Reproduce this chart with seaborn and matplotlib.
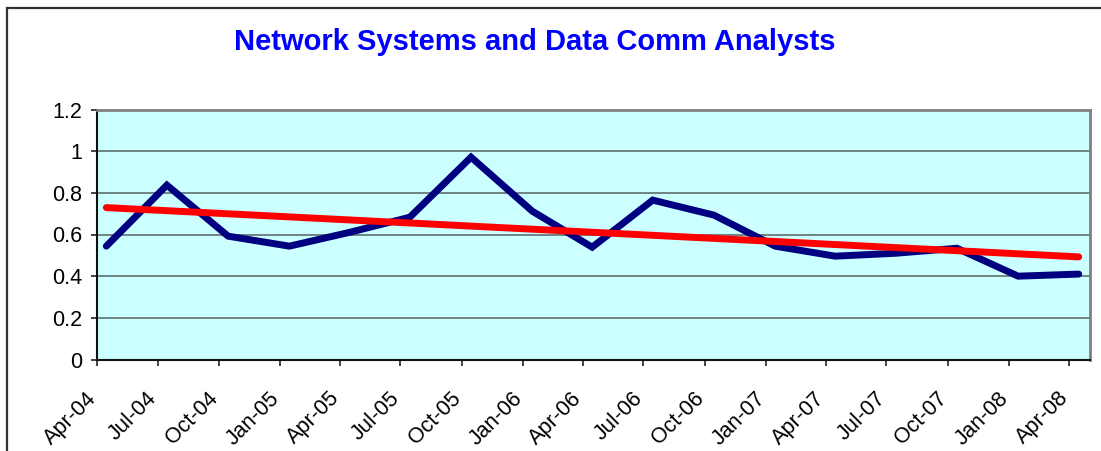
import numpy as np
import pandas as pd
import matplotlib
matplotlib.use("Agg")
import matplotlib.pyplot as plt
import matplotlib.dates as mdates
from matplotlib.patches import Rectangle
import seaborn as sns

# ---- data ----
dates = pd.to_datetime([
    "2004-04-15", "2004-07-15", "2004-10-15", "2005-01-15", "2005-04-15",
    "2005-07-15", "2005-10-15", "2006-01-15", "2006-04-15", "2006-07-15",
    "2006-10-15", "2007-01-15", "2007-04-15", "2007-07-15", "2007-10-15",
    "2008-01-15", "2008-04-15",
])
values = [0.544, 0.837, 0.592, 0.544, 0.610, 0.683, 0.971, 0.712, 0.539,
          0.765, 0.693, 0.544, 0.496, 0.510, 0.534, 0.400, 0.410]
title = "Network Systems and Data Comm Analysts"
y_ticks = [0, 0.2, 0.4, 0.6, 0.8, 1.0, 1.2]
y_tick_labels = ["0", "0.2", "0.4", "0.6", "0.8", "1", "1.2"]

df = pd.DataFrame({"date": dates, "value": values})

# linear trend (Excel-style trendline) fitted to the series
xnum = mdates.date2num(df["date"])
coef = np.polyfit(xnum, df["value"], 1)
trend = pd.DataFrame({"date": df["date"], "value": np.polyval(coef, xnum)})

sns.set_style("white")
plt.rcParams["font.family"] = ["Liberation Sans", "DejaVu Sans"]

W, H = 1101, 451
fig = plt.figure(figsize=(W / 100, H / 100), dpi=100)
ax = fig.add_axes([97 / W, 1 - 359.5 / H, (1090 - 97) / W, (359.5 - 109.5) / H])
ax.set_facecolor("#CCFFFF")

sns.lineplot(data=df, x="date", y="value", ax=ax, color="#000080",
             linewidth=5.0, solid_capstyle="round", solid_joinstyle="miter", zorder=3)
sns.lineplot(data=trend, x="date", y="value", ax=ax, color="#FF0000",
             linewidth=5.0, solid_capstyle="round", zorder=4)

ax.set_ylim(0, 1.2)
ax.set_xlim(pd.Timestamp("2004-04-01"), pd.Timestamp("2008-05-02"))
ax.set_yticks(y_ticks)
ax.set_yticklabels(y_tick_labels)
ax.xaxis.set_major_locator(mdates.MonthLocator(bymonth=[1, 4, 7, 10], bymonthday=1))
ax.xaxis.set_major_formatter(mdates.DateFormatter("%b-%y"))
ax.set_xlabel("")
ax.set_ylabel("")

ax.grid(axis="y", color="#5F7070", linewidth=1.2)
ax.grid(axis="x", visible=False)
ax.set_axisbelow(True)

ax.tick_params(axis="both", which="major", direction="out", length=4.5, width=1.2,
               color="#222222", labelsize=15.5, labelcolor="black")
ax.tick_params(axis="y", pad=6)
ax.tick_params(axis="x", pad=24)
ax.tick_params(left=True, bottom=True)
plt.setp(ax.get_xticklabels(), rotation=45, ha="right", va="baseline",
         rotation_mode="anchor")

for side in ["left", "bottom"]:
    ax.spines[side].set_color("#111111")
    ax.spines[side].set_linewidth(1.5)
for side in ["top", "right"]:
    ax.spines[side].set_color("#808080")
    ax.spines[side].set_linewidth(2.0)

fig.text(535 / W, 1 - 42 / H, title, ha="center", va="center",
         fontsize=21, fontweight="bold", color="#0000FF")

# chart-area border (left and top visible in the reference)
fig.patches.append(Rectangle((7 / W, -0.1), 1.2, 1 - 8 / H + 0.1,
                             transform=fig.transFigure, fill=False,
                             edgecolor="#333333", linewidth=1.6))

fig.savefig("out.png", dpi=100, facecolor="white")
